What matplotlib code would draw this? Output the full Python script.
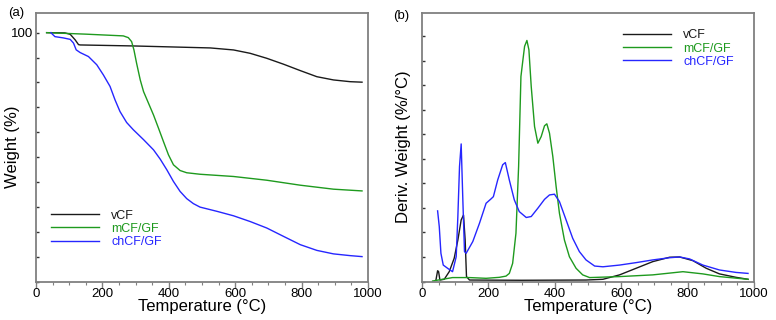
import matplotlib
matplotlib.use("Agg")
import matplotlib.pyplot as plt
from matplotlib.ticker import MultipleLocator, FixedLocator

plt.rcParams['font.family'] = ['Liberation Sans', 'DejaVu Sans']

# ---- Panel (a): TGA weight (%) ----
vcf_T = [32, 87, 103, 118, 128, 133, 293, 525, 595, 645, 695, 746, 796, 846, 896, 946, 982]
vcf_W = [100, 99.9, 99.35, 97.1, 95.2, 95.06, 94.66, 93.86, 93.05, 91.7, 89.7, 87.3, 84.75, 82.3, 81.0, 80.3, 80.1]

mcf_T = [32, 150, 263, 278, 288, 295, 303, 314, 324, 339, 354, 369, 384, 399, 414, 434, 454, 494, 595, 695, 796, 896, 982]
mcf_W = [100, 99.4, 98.7, 98.0, 96.4, 93.05, 87.7, 81.0, 76.3, 71.6, 66.9, 61.6, 56.2, 50.9, 46.9, 44.6, 43.7, 43.1, 42.2, 40.7, 38.7, 37.1, 36.4]

ch_T = [45, 47, 57, 82, 103, 113, 121, 133, 158, 183, 203, 223, 238, 253, 273, 293, 324, 354, 374, 394, 414, 434, 454, 474, 494, 545, 595, 645, 695, 746, 796, 846, 896, 946, 982]
ch_W = [100, 99.7, 98.4, 97.9, 97.3, 95.8, 93.1, 92.0, 90.4, 87.1, 83.0, 78.4, 73.0, 68.3, 63.9, 61.0, 57.0, 52.9, 49.2, 44.9, 40.2, 36.2, 33.3, 31.3, 29.9, 28.2, 26.4, 24.1, 21.5, 18.1, 14.8, 12.5, 11.1, 10.4, 10.0]

# ---- Panel (b): DTG (arbitrary units) ----
dv_T = [42, 47, 50, 54, 67, 82, 97, 108, 118, 125, 130, 134, 143, 300, 494, 545, 595, 645, 695, 746, 776, 816, 856, 896, 946, 982]
dv_D = [0.06, 0.44, 0.4, 0.06, 0.09, 0.4, 0.95, 1.69, 2.51, 2.71, 1.69, 0.2, 0.06, 0.05, 0.06, 0.09, 0.27, 0.54, 0.81, 0.99, 1.0, 0.85, 0.54, 0.31, 0.17, 0.09]

dm_T = [32, 62, 92, 143, 193, 233, 253, 263, 273, 283, 291, 298, 304, 309, 316, 322, 329, 339, 349, 359, 369, 376, 384, 394, 404, 414, 429, 444, 464, 484, 505, 595, 695, 786, 846, 896, 982]
dm_D = [0.02, 0.09, 0.16, 0.16, 0.13, 0.17, 0.22, 0.33, 0.74, 1.97, 4.69, 8.36, 9.04, 9.59, 9.83, 9.45, 7.95, 6.32, 5.64, 5.91, 6.35, 6.43, 6.05, 5.1, 3.87, 2.78, 1.69, 1.01, 0.54, 0.27, 0.16, 0.2, 0.27, 0.4, 0.31, 0.2, 0.09]

dc_T = [47, 52, 57, 64, 77, 92, 103, 108, 113, 118, 123, 128, 133, 153, 173, 193, 208, 215, 228, 243, 251, 263, 278, 293, 314, 329, 349, 369, 384, 399, 414, 434, 454, 474, 494, 520, 545, 595, 645, 695, 746, 776, 806, 846, 896, 946, 982]
dc_D = [2.88, 2.24, 1.15, 0.67, 0.54, 0.4, 1.01, 2.65, 4.69, 5.61, 3.33, 1.22, 1.15, 1.63, 2.37, 3.19, 3.37, 3.46, 4.14, 4.76, 4.85, 4.14, 3.33, 2.85, 2.61, 2.65, 2.99, 3.35, 3.53, 3.56, 3.26, 2.51, 1.76, 1.22, 0.88, 0.63, 0.6, 0.67, 0.77, 0.88, 0.97, 1.0, 0.92, 0.67, 0.47, 0.37, 0.33]

labels = ['vCF', 'mCF/GF', 'chCF/GF']
colors = ['#1a1a1a', '#1e9a1e', '#2626ff']

fig = plt.figure(figsize=(7.76, 3.2), dpi=100)
axa = fig.add_axes([36/776, 1-281.5/320, (368-36)/776, (281.5-12.5)/320])
axb = fig.add_axes([422/776, 1-281.5/320, (754-422)/776, (281.5-12.5)/320])

spine_col = '#808080'
for ax in (axa, axb):
    for s in ax.spines.values():
        s.set_color(spine_col)
        s.set_linewidth(1.3)
    ax.set_xlim(0, 1000)
    ax.xaxis.set_major_locator(MultipleLocator(200))
    ax.xaxis.set_minor_locator(MultipleLocator(50))
    ax.tick_params(axis='x', which='major', direction='out', length=4, width=1, color=spine_col,
                   labelsize=9.5, pad=1)
    ax.tick_params(axis='x', which='minor', direction='out', length=2, width=0.8, color=spine_col)
    ax.tick_params(axis='y', which='both', direction='in', length=2, width=1, color='#333333',
                   labelsize=9.5, pad=2)
    ax.set_xlabel('Temperature (°C)', fontsize=12, labelpad=-1)

lw = 1.0
axa.plot(vcf_T, vcf_W, color=colors[0], lw=lw, label=labels[0])
axa.plot(mcf_T, mcf_W, color=colors[1], lw=lw, label=labels[1])
axa.plot(ch_T, ch_W, color=colors[2], lw=lw, label=labels[2])
axa.set_ylim(0, 108.1)
axa.yaxis.set_major_locator(FixedLocator([100]))
axa.yaxis.set_minor_locator(FixedLocator(list(range(0, 100, 10))))
axa.set_ylabel('Weight (%)', fontsize=12)
axa.yaxis.set_label_coords(-0.048, 0.5)

axb.plot(dv_T, dv_D, color=colors[0], lw=lw, label=labels[0])
axb.plot(dm_T, dm_D, color=colors[1], lw=lw, label=labels[1])
axb.plot(dc_T, dc_D, color=colors[2], lw=lw, label=labels[2])
axb.set_ylim(0, 10.97)
axb.yaxis.set_major_locator(FixedLocator([]))
axb.yaxis.set_minor_locator(FixedLocator(list(range(0, 11))))
axb.set_ylabel('Deriv. Weight (%/°C)', fontsize=12)
axb.yaxis.set_label_coords(-0.033, 0.5)

for ax, anchor in ((axa, (0.02, 0.3)), (axb, (0.58, 0.97))):
    ax.legend(loc='upper left', bbox_to_anchor=anchor, frameon=False, fontsize=9,
              handlelength=3.8, handletextpad=1.0, labelspacing=0.1,
              labelcolor='linecolor', borderaxespad=0.3)

fig.text(8/776, 1-13/320, '(a)', fontsize=9.5, va='center', ha='left')
fig.text(393/776, 1-16/320, '(b)', fontsize=9.5, va='center', ha='left')

fig.savefig('out.png', dpi=100)
